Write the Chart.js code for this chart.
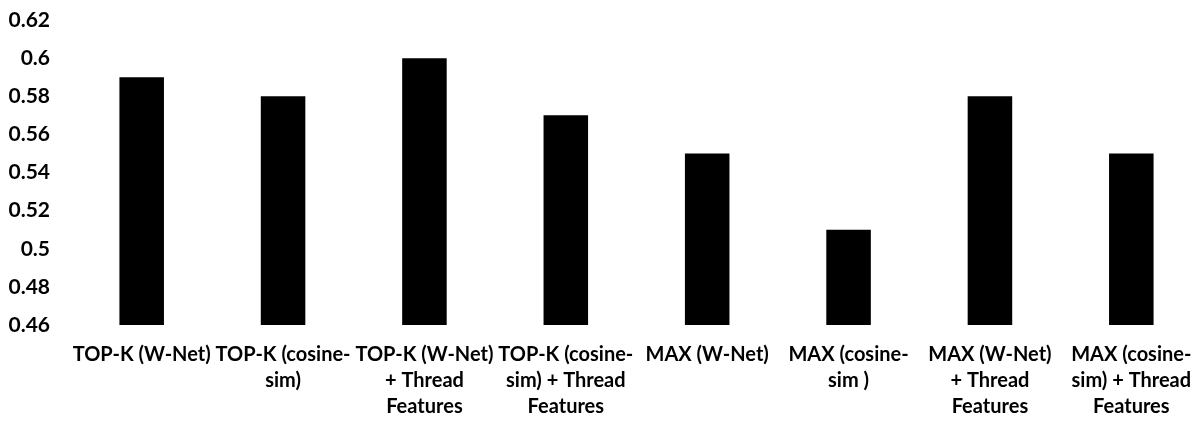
<!DOCTYPE html>
<html>
<head>
<meta charset="utf-8">
<script src="https://cdn.jsdelivr.net/npm/chart.js@4/dist/chart.umd.min.js"></script>
<style>
  html, body { margin: 0; padding: 0; background: #ffffff; }
  #wrap { width: 1202px; height: 426px; }
</style>
</head>
<body>
<div id="wrap"><canvas id="c" width="1202" height="426"></canvas></div>
<script>
const categories = [
  ["TOP-K (W-Net)"],
  ["TOP-K (cosine-", "sim)"],
  ["TOP-K (W-Net)", "+ Thread", "Features"],
  ["TOP-K (cosine-", "sim) + Thread", "Features"],
  ["MAX (W-Net)"],
  ["MAX (cosine-", "sim )"],
  ["MAX (W-Net)", "+ Thread", "Features"],
  ["MAX (cosine-", "sim) + Thread", "Features"]
];
const values = [0.59, 0.58, 0.60, 0.57, 0.55, 0.51, 0.58, 0.55];
const yMin = 0.46;
const yMax = 0.62;
const yStep = 0.02;

new Chart(document.getElementById('c'), {
  type: 'bar',
  data: {
    labels: categories,
    datasets: [{
      data: values,
      backgroundColor: '#000000',
      borderWidth: 0,
      categoryPercentage: 1.0,
      barPercentage: 0.315
    }]
  },
  options: {
    responsive: false,
    animation: false,
    layout: { padding: { top: 20, left: 8, right: -5, bottom: 6 } },
    plugins: { legend: { display: false }, tooltip: { enabled: false } },
    scales: {
      x: {
        afterFit: (s) => { s.paddingLeft = 0; s.paddingRight = 0; },
        grid: { display: true, drawOnChartArea: false, drawTicks: true, tickLength: 17, color: 'rgba(0,0,0,0)' },
        border: { display: false },
        ticks: {
          color: '#000000',
          font: { family: 'Lato', weight: 'bold', size: 20, lineHeight: 1.3 },
          padding: 0,
          maxRotation: 0,
          minRotation: 0,
          autoSkip: false
        }
      },
      y: {
        min: yMin,
        max: yMax,
        afterFit: (s) => { s.paddingTop = 0; s.paddingBottom = 0; s.width = 63; },
        grid: { display: false, drawTicks: false },
        border: { display: false },
        ticks: {
          stepSize: yStep,
          color: '#000000',
          font: { family: 'Lato', weight: 'bold', size: 21 },
          padding: 21,
          callback: (v) => String(Number(v.toFixed(2)))
        }
      }
    }
  }
});
</script>
</body>
</html>
